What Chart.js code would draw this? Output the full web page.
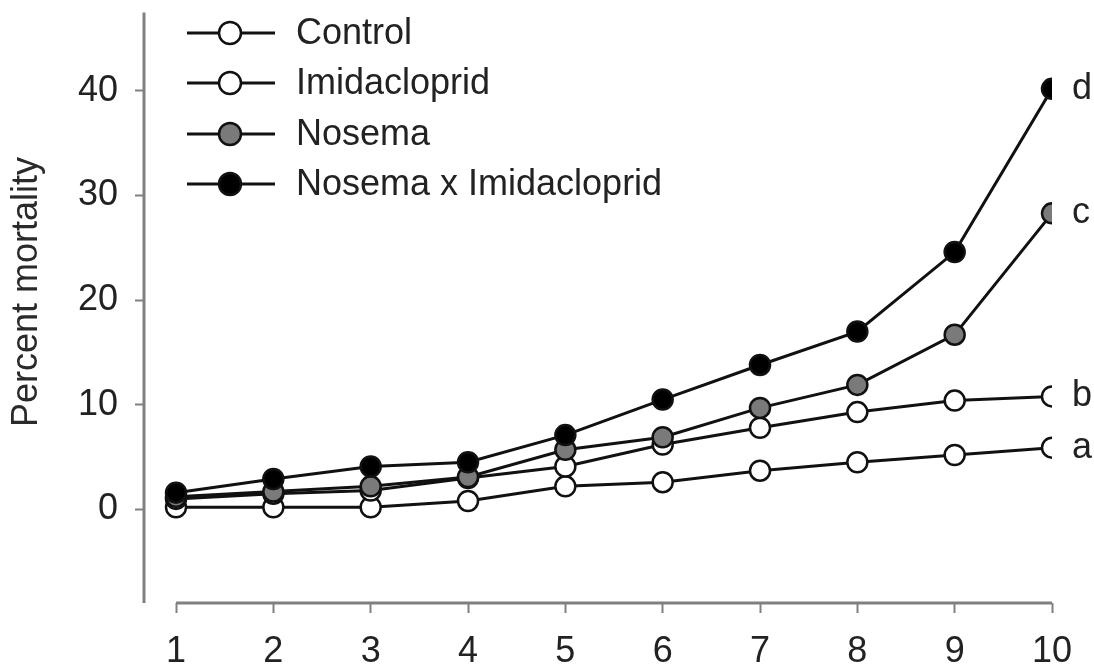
<!DOCTYPE html>
<html>
<head>
<meta charset="utf-8">
<script src="https://cdn.jsdelivr.net/npm/chart.js@4.4.1/dist/chart.umd.min.js"></script>
<style>
  html, body { margin: 0; padding: 0; background: #fff; }
  #wrap { width: 1094px; height: 669px; }
</style>
</head>
<body>
<div id="wrap"><canvas id="chart"></canvas></div>
<script>
// Data
var days = [1, 2, 3, 4, 5, 6, 7, 8, 9, 10];
var yTicks = [0, 10, 20, 30, 40];
var seriesNames = ["Control", "Imidacloprid", "Nosema", "Nosema x Imidacloprid"];
var control = [0.2, 0.2, 0.2, 0.8, 2.2, 2.6, 3.7, 4.5, 5.2, 5.9];
var imidacloprid = [1.0, 1.5, 1.8, 3.0, 4.1, 6.2, 7.8, 9.3, 10.4, 10.8];
var nosema = [1.2, 1.7, 2.2, 3.1, 5.7, 6.9, 9.7, 11.9, 16.7, 28.3];
var nosemaImid = [1.6, 2.9, 4.1, 4.5, 7.1, 10.5, 13.8, 17.0, 24.6, 40.2];
var endLetters = ["a", "b", "c", "d"];

var FONT = "'Liberation Sans', Arial, sans-serif";
var fills = ["#ffffff", "#ffffff", "#7a7a7a", "#000000"];

function toPoints(values) {
    return values.map(function (v, i) { return { x: days[i], y: v }; });
}

function makeDataset(i, values) {
    return {
        label: seriesNames[i],
        data: toPoints(values),
        borderColor: "#111",
        borderWidth: 3,
        pointRadius: 10,
        pointHoverRadius: 10,
        pointBorderWidth: 2.5,
        pointBorderColor: "#111",
        pointBackgroundColor: fills[i],
        order: 4 - i
    };
}

// Axis lines, y title, end letters and legend drawn on the canvas
var decorations = {
    id: "decorations",
    afterDatasetsDraw: function (chart) {
        var ctx = chart.ctx;
        var xs = chart.scales.x, ys = chart.scales.y, area = chart.chartArea;
        ctx.save();

        // separated axis lines
        ctx.strokeStyle = "#808080";
        ctx.lineWidth = 3;
        ctx.beginPath();
        ctx.moveTo(area.left, area.top);
        ctx.lineTo(area.left, area.bottom);
        ctx.moveTo(xs.getPixelForValue(days[0]), area.bottom);
        ctx.lineTo(xs.getPixelForValue(days[days.length - 1]), area.bottom);
        ctx.stroke();

        // y axis title
        ctx.save();
        ctx.translate(27, 292);
        ctx.rotate(-Math.PI / 2);
        ctx.fillStyle = "#2a2a2a";
        ctx.font = "36px " + FONT;
        ctx.textAlign = "center";
        ctx.textBaseline = "middle";
        ctx.fillText("Percent mortality", 0, 0);
        ctx.restore();

        // significance letters next to the last points
        ctx.fillStyle = "#222";
        ctx.font = "36px " + FONT;
        ctx.textAlign = "left";
        ctx.textBaseline = "middle";
        var last = days.length - 1;
        chart.data.datasets.forEach(function (ds, i) {
            var p = ds.data[last];
            ctx.fillText(endLetters[i], xs.getPixelForValue(p.x) + 20, ys.getPixelForValue(p.y));
        });

        // legend
        var rowY = [33, 83, 134, 184];
        chart.data.datasets.forEach(function (ds, i) {
            var y = rowY[i];
            ctx.strokeStyle = "#111";
            ctx.lineWidth = 3;
            ctx.beginPath();
            ctx.moveTo(187, y);
            ctx.lineTo(275, y);
            ctx.stroke();
            ctx.beginPath();
            ctx.arc(230, y, 11, 0, Math.PI * 2);
            ctx.fillStyle = ds.pointBackgroundColor;
            ctx.fill();
            ctx.lineWidth = 2.5;
            ctx.stroke();
            ctx.fillStyle = "#222";
            ctx.fillText(ds.label, 296, y + 1);
        });
        ctx.restore();
    }
};

new Chart(document.getElementById("chart"), {
    type: "line",
    data: {
        datasets: [
            makeDataset(0, control),
            makeDataset(1, imidacloprid),
            makeDataset(2, nosema),
            makeDataset(3, nosemaImid)
        ]
    },
    options: {
        responsive: true,
        maintainAspectRatio: false,
        animation: false,
        layout: { padding: { top: 10, right: 42, left: 0, bottom: 0 } },
        plugins: {
            legend: { display: false },
            tooltip: { enabled: false }
        },
        scales: {
            x: {
                type: "linear",
                min: 0.671,
                max: 10,
                afterBuildTicks: function (scale) {
                    scale.ticks = days.map(function (d) { return { value: d }; });
                },
                afterFit: function (scale) { scale.height = 66; },
                border: { display: false },
                grid: { drawOnChartArea: false, drawTicks: true, tickLength: 10, tickColor: "#808080", tickWidth: 2 },
                ticks: { color: "#222", font: { family: FONT, size: 36 }, padding: 17, maxRotation: 0, autoSkip: false }
            },
            y: {
                min: -8.95,
                max: 47.5,
                afterBuildTicks: function (scale) {
                    scale.ticks = yTicks.map(function (v) { return { value: v }; });
                },
                afterFit: function (scale) {
                    scale.width = 144;
                    scale.paddingTop = 0;
                    scale.paddingBottom = 0;
                },
                border: { display: false },
                grid: { drawOnChartArea: false, drawTicks: true, tickLength: 9, tickColor: "#808080", tickWidth: 2 },
                ticks: { color: "#222", font: { family: FONT, size: 36 }, padding: 17 }
            }
        }
    },
    plugins: [decorations]
});
</script>
</body>
</html>
